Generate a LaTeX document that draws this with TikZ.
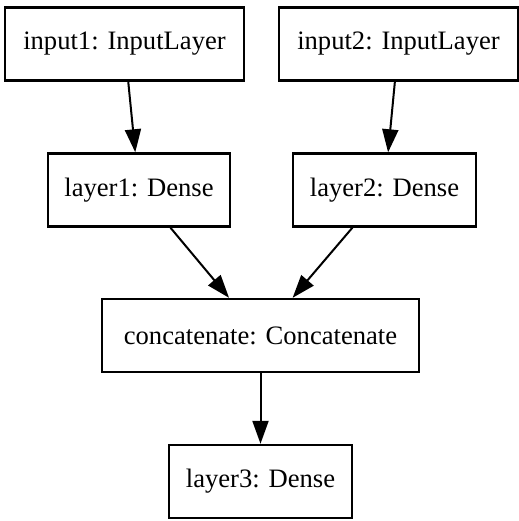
\documentclass[tikz,border=0pt]{standalone}
\usepackage{fontspec}
\setmainfont{Liberation Serif}
\usetikzlibrary{arrows.meta}

\begin{document}
\begin{tikzpicture}[
        x=0.5pt,y=-0.5pt,
        layer/.style={draw,line width=1.2pt,inner sep=0pt,minimum height=36.5pt,font=\fontsize{13.3}{16}\selectfont},
        arr/.style={-{Triangle[length=11.5pt,width=8pt]},line width=1pt,black}
      ]
        \useasboundingbox (0,0) rectangle (519,521);
        \node[layer,minimum width=119.5pt] (in1) at (124.5,44) {input1: InputLayer};
        \node[layer,minimum width=119.5pt] (in2) at (398.5,44) {input2: InputLayer};
        \node[layer,minimum width=91pt] (l1) at (139,190) {layer1: Dense};
        \node[layer,minimum width=91.5pt] (l2) at (384.5,190) {layer2: Dense};
        \node[layer,minimum width=158.5pt] (cat) at (260.5,335.5) {concatenate: Concatenate};
        \node[layer,minimum width=91.5pt] (l3) at (260.5,481.5) {layer3: Dense};
        \draw[arr] (in1)--(l1); \draw[arr] (in2)--(l2);
        \draw[arr] (l1)--(cat); \draw[arr] (l2)--(cat);
        \draw[arr] (cat)--(l3);
      \end{tikzpicture}
\end{document}
